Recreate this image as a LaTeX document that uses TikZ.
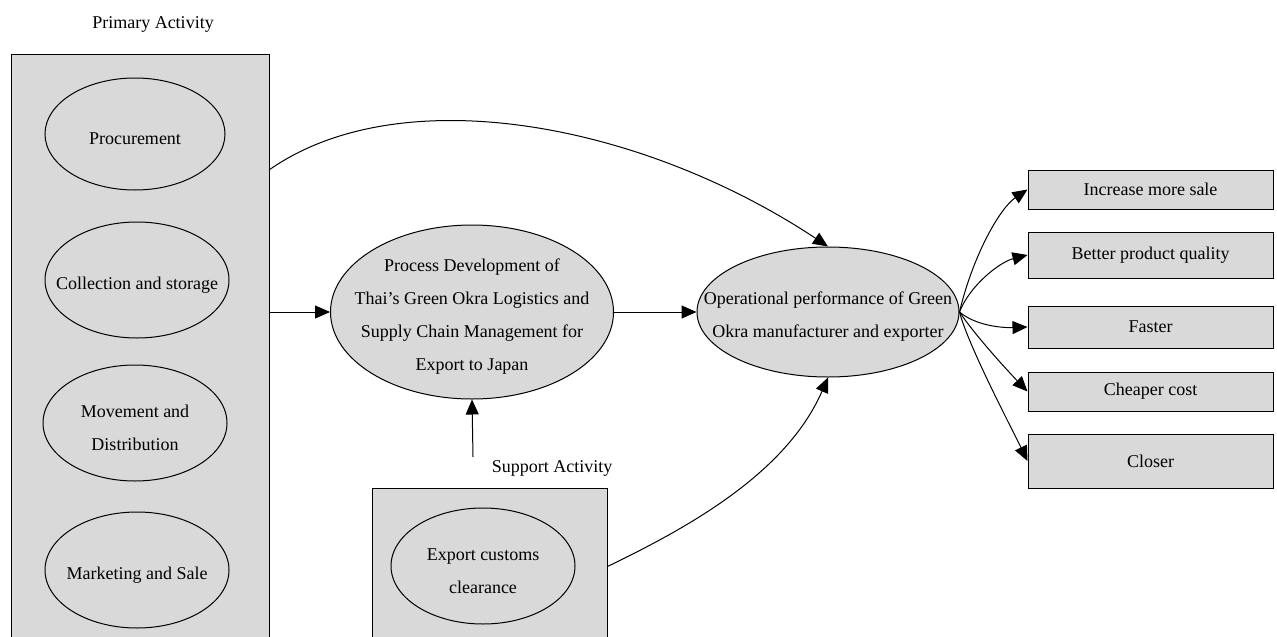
\documentclass[tikz,border=0pt]{standalone}
\usepackage{fontspec}
\setmainfont{Liberation Serif}
\usetikzlibrary{arrows.meta, shapes.geometric}

\begin{document}
\begin{tikzpicture}[x=1pt, y=-1pt, line width=1pt,
        font=\fontsize{18}{33}\selectfont,
        oval/.style = {draw, ellipse, fill=black!15, inner sep=0pt,
            label={[align=center, yshift=-5pt]center:#1}},
        group/.style = {draw, rectangle, fill=black!15, inner sep=0pt},
        outcome/.style = {draw, rectangle, fill=black!15, minimum width=245pt, inner sep=0pt},
        link/.style = {-{Triangle[length=15pt, width=13pt]}}]
            \useasboundingbox (0,0) rectangle (1277,637);

            % primary activity
            \node (primlabel) at (153,24) {Primary Activity};
            \node[group, minimum width=258pt, minimum height=591pt] (prim) at (140,349.5) {};
            \node[oval={Procurement}, minimum width=180pt, minimum height=112pt] (procure) at (135,134) {};
            \node[oval={Collection and storage}, minimum width=184pt, minimum height=116pt] (collect) at (137,280) {};
            \node[oval={Movement and\\Distribution}, minimum width=184pt, minimum height=116pt] (move) at (135,423) {};
            \node[oval={Marketing and Sale}, minimum width=184pt, minimum height=116pt] (market) at (137,570) {};

            % support activity
            \node (suplabel) at (552,468) {Support Activity};
            \node[group, minimum width=235pt, minimum height=157pt] (sup) at (489.5,566.5) {};
            \node[oval={Export customs\\clearance}, minimum width=184pt, minimum height=116pt] (customs) at (483,566) {};

            % centre
            \node[oval={Process Development of\\Thai's Green Okra Logistics and\\Supply Chain Management for\\Export to Japan},
                minimum width=283pt, minimum height=174pt] (dev) at (472,312) {};
            \node[oval={Operational performance of Green\\Okra manufacturer and exporter},
                minimum width=262pt, minimum height=130pt] (op) at (828,312) {};

            % outcomes
            \node[outcome, minimum height=39pt] (sale) at (1150.5,189.5) {Increase more sale};
            \node[outcome, minimum height=46pt] (quality) at (1150.5,255) {Better product quality};
            \node[outcome, minimum height=42pt] (faster) at (1150.5,327) {Faster};
            \node[outcome, minimum height=39pt] (cheaper) at (1150.5,391.5) {Cheaper cost};
            \node[outcome, minimum height=54pt] (closer) at (1150.5,461) {Closer};

            \coordinate (primout) at (269,170);
            \coordinate (suptop) at (473,457);

            \draw[link] (prim.east |- dev.west) -- (dev.west);
            \draw[link] (dev.east) -- (op.west);
            \draw[link] (suptop) -- (dev.south);
            \draw[link] (primout) .. controls (400,78) and (640,122) .. (op.north);
            \draw[link] (sup.east) .. controls (687,528) and (786,474) .. (op.south);

            \draw[link] (op.east) .. controls (973,255) and (1000,208) .. (sale.west);
            \draw[link] (op.east) .. controls (970,285) and (1000,262) .. (quality.west);
            \draw[link] (op.east) .. controls (975,325) and (1000,328) .. (faster.west);
            \draw[link] (op.east) .. controls (975,335) and (1005,368) .. (cheaper.west);
            \draw[link] (op.east) .. controls (968,345) and (1010,425) .. (closer.west);
        \end{tikzpicture}
\end{document}
